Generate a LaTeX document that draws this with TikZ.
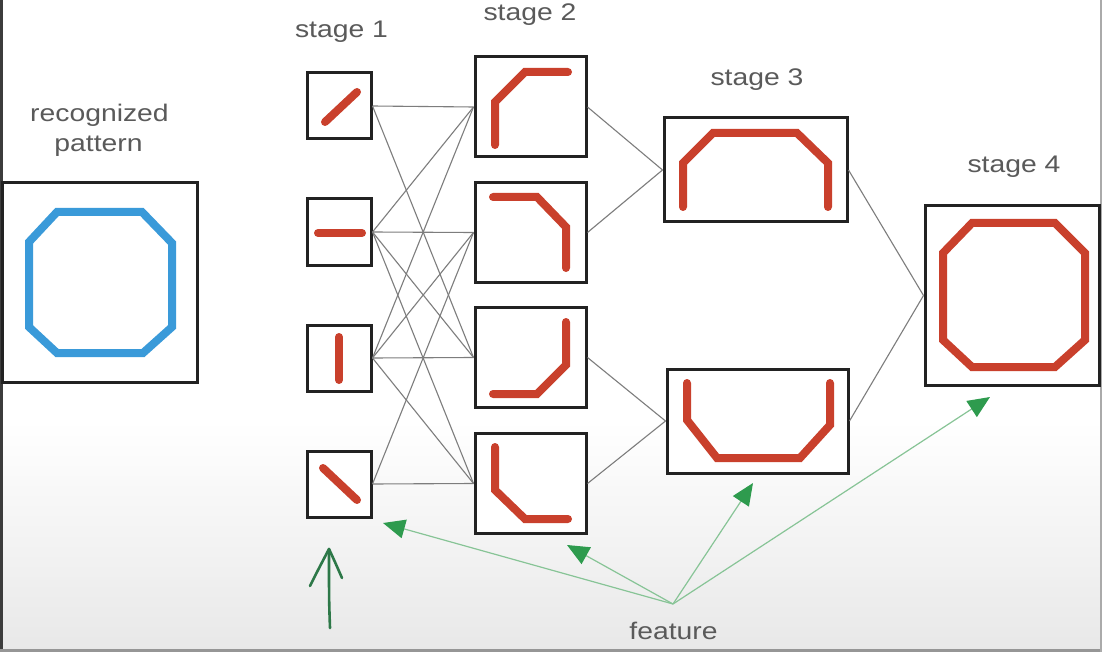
\documentclass[tikz,border=0pt]{standalone}
\usepackage{fontspec}
\setmainfont{Liberation Sans}[FakeStretch=1.18]
\usetikzlibrary{arrows.meta}
\definecolor{featred}{RGB}{201,64,44}
\definecolor{patblue}{RGB}{58,154,217}
\definecolor{txtgray}{RGB}{90,90,90}
\definecolor{linkgray}{RGB}{125,125,125}
\definecolor{arrline}{RGB}{135,196,150}
\definecolor{arrhead}{RGB}{46,155,78}
\definecolor{handgreen}{RGB}{45,120,72}
\definecolor{boxblack}{RGB}{34,34,34}
\tikzset{
  cell/.style={draw=boxblack, line width=3pt, fill=white, inner sep=0pt},
  link/.style={draw=linkgray, line width=1.1pt},
  feat/.style={draw=featred, line width=8pt, line cap=round, line join=miter},
  pat/.style={draw=patblue, line width=8pt, line join=miter},
  lbl/.style={text=txtgray, font=\fontsize{24}{28}\selectfont, anchor=base, inner sep=0pt},
  pointer/.style={draw=arrline, line width=1.2pt, -{Triangle[length=22pt,width=19pt,color=arrhead,fill=arrhead]}},
}
\begin{document}
\begin{tikzpicture}[x=1pt,y=-1pt]
\useasboundingbox (0,0) rectangle (1102,652);
\fill[white] (0,0) rectangle (1102,652);
\shade[top color=white, bottom color={rgb,255:red,232;green,232;blue,232}] (0,420) rectangle (1102,652);
% frame edges
\draw[draw={rgb,255:red,60;green,60;blue,60}, line width=3pt] (1.5,0) -- (1.5,652);
\draw[draw={rgb,255:red,150;green,150;blue,150}, line width=3pt] (0,650.5) -- (1102,650.5);
\draw[draw={rgb,255:red,170;green,170;blue,170}, line width=2pt] (1101,0) -- (1101,652);

% stage 1
\node[cell, minimum width=64pt, minimum height=66pt] (a1) at (339,106) {};
\node[cell, minimum width=64pt, minimum height=66pt] (a2) at (339,232) {};
\node[cell, minimum width=64pt, minimum height=66pt] (a3) at (339,358) {};
\node[cell, minimum width=64pt, minimum height=66pt] (a4) at (339,484) {};
% stage 2
\node[cell, minimum width=111pt, minimum height=100pt] (b1) at (530.5,107) {};
\node[cell, minimum width=111pt, minimum height=100pt] (b2) at (530.5,232.5) {};
\node[cell, minimum width=111pt, minimum height=100pt] (b3) at (530.5,357.5) {};
\node[cell, minimum width=111pt, minimum height=100pt] (b4) at (530.5,483.5) {};
% stage 3
\node[cell, minimum width=183pt, minimum height=104pt] (c1) at (755.5,170) {};
\node[cell, minimum width=181pt, minimum height=104pt] (c2) at (757.5,421) {};
% stage 4
\node[cell, minimum width=174pt, minimum height=179pt] (d1) at (1012,295.5) {};
% recognized
\node[cell, minimum width=195pt, minimum height=199pt] (r1) at (99.5,282.5) {};

% links stage1 -> stage2
\draw[link] (a1.east) -- (b1.west);
\draw[link] (a1.east) -- (b3.west);
\foreach \s in {a2,a3}{
  \foreach \t in {b1,b2,b3,b4}{
    \draw[link] (\s.east) -- (\t.west);
  }
}
\draw[link] (a4.east) -- (b2.west);
\draw[link] (a4.east) -- (b4.west);
% stage2 -> stage3
\draw[link] (b1.east) -- (c1.west);
\draw[link] (b2.east) -- (c1.west);
\draw[link] (b3.east) -- (c2.west);
\draw[link] (b4.east) -- (c2.west);
% stage3 -> stage4
\draw[link] (c1.east) -- (d1.west);
\draw[link] (c2.east) -- (d1.west);

% features stage 1
\draw[feat] (325,122) -- (357,92);
\draw[feat] (318,233) -- (362,233);
\draw[feat] (339,337) -- (339,380);
\draw[feat] (323,468) -- (357,500);
% features stage 2
\draw[feat] (495,145) -- (495,102) -- (525,72) -- (568,72);
\draw[feat] (493,197) -- (537,197) -- (566,227) -- (566,268);
\draw[feat] (566,322) -- (566,365) -- (537,394) -- (493,394);
\draw[feat] (495,447) -- (495,490) -- (525,519) -- (568,519);
% features stage 3
\draw[feat] (683,207) -- (683,163) -- (713,133) -- (797,133) -- (828,163) -- (828,207);
\draw[feat] (687,383) -- (687,420) -- (717,458) -- (800,458) -- (830,425) -- (830,383);
% stage 4 octagon
\draw[feat, line cap=butt] (972,223) -- (1055,223) -- (1085,253) -- (1085,340) -- (1055,367) -- (972,367) -- (943,340) -- (943,253) -- cycle;
% recognized octagon
\draw[pat] (57,212) -- (142,212) -- (172,243) -- (172,327) -- (143,353) -- (57,353) -- (29,327) -- (29,242) -- cycle;

% labels
\node[lbl] (l1) at (341.5,38) {stage 1};
\node[lbl] (l2) at (530,21) {stage 2};
\node[lbl] (l3) at (757,86) {stage 3};
\node[lbl] (l4) at (1014,173) {stage 4};
\node[lbl] (lr1) at (99.5,122) {recognized};
\node[lbl] (lr2) at (98.5,152) {pattern};
\node[lbl] (lf) at (673.5,639) {feature};

% feature pointers
\coordinate (f0) at (673,604);
\coordinate (p1) at (383,523);
\coordinate (p2) at (567,545);
\coordinate (p3) at (753,483);
\coordinate (p4) at (990,397);
\draw[pointer] (f0) -- (p1);
\draw[pointer] (f0) -- (p2);
\draw[pointer] (f0) -- (p3);
\draw[pointer] (f0) -- (p4);

% hand-drawn arrow
\coordinate (h0) at (330,628);
\coordinate (h1) at (329,549);
\draw[handgreen, line width=2.6pt, line cap=round, line join=round] (h0) .. controls (329,600) .. (h1);
\draw[handgreen, line width=2.6pt, line cap=round, line join=round] (310,586) .. controls (318,570) .. (h1) .. controls (335,562) .. (342,578);
\end{tikzpicture}
\end{document}
